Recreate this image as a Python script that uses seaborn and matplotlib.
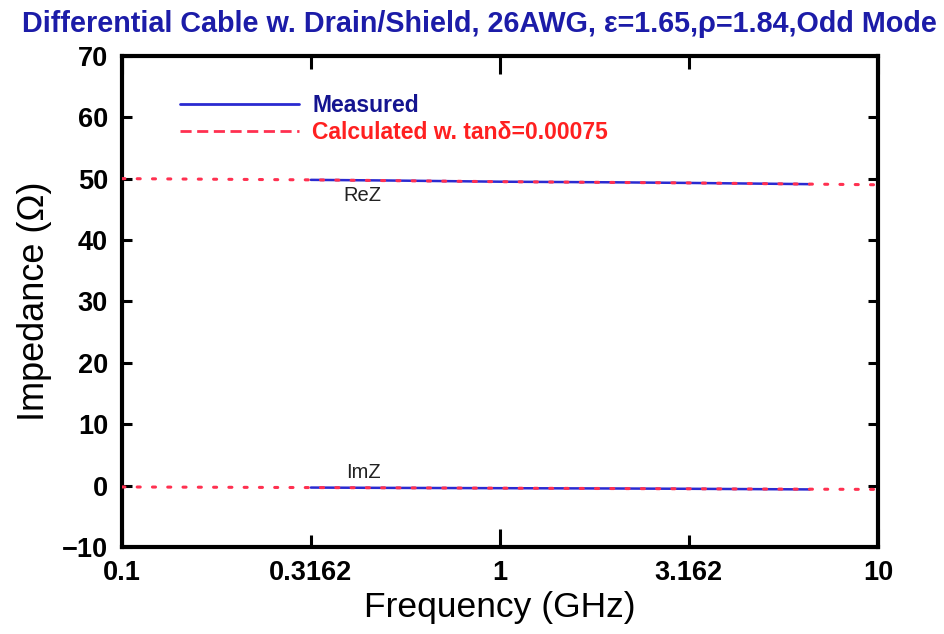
import matplotlib
matplotlib.use("Agg")
import matplotlib.pyplot as plt
from matplotlib.lines import Line2D
from matplotlib.ticker import FixedLocator, FixedFormatter, NullLocator
import seaborn as sns
import pandas as pd

# Frequency sweep (GHz) and impedance components (Ohm)
freq_calc = [0.1, 0.3162, 1.0, 3.162, 10.0]
rez_calc = [50.0, 49.8, 49.5, 49.3, 49.0]
imz_calc = [-0.2, -0.3, -0.4, -0.5, -0.6]

freq_meas = [0.3162, 0.5, 1.0, 2.0, 3.162, 6.6]
rez_meas = [49.8, 49.7, 49.5, 49.4, 49.3, 49.1]
imz_meas = [-0.3, -0.35, -0.4, -0.45, -0.5, -0.6]

x_ticks = [0.1, 0.3162, 1, 3.162, 10]
x_tick_labels = ["0.1", "0.3162", "1", "3.162", "10"]
y_ticks = [-10, 0, 10, 20, 30, 40, 50, 60, 70]

title = "Differential Cable w. Drain/Shield, 26AWG, \u03b5=1.65,\u03c1=1.84,Odd Mode"
legend_labels = ["Measured", "Calculated w. tan\u03b4=0.00075"]

sns.set_theme(style="white")
plt.rcParams["font.family"] = ["Liberation Sans", "DejaVu Sans"]

fig = plt.figure(figsize=(9.45, 6.34), dpi=100)
ax = fig.add_axes([0.129, 0.137, 0.800, 0.775])

calc = pd.DataFrame({"f": freq_calc, "re": rez_calc, "im": imz_calc})
meas = pd.DataFrame({"f": freq_meas, "re": rez_meas, "im": imz_meas})

blue = "#2a2ad0"
red = "#ff3050"
dots = (0, (1, 4))

for col in ["re", "im"]:
    sns.lineplot(data=meas, x="f", y=col, ax=ax, color=blue, linewidth=1.8,
                 estimator=None, zorder=2)
    sns.lineplot(data=calc, x="f", y=col, ax=ax, color=red, linewidth=2.2,
                 linestyle=dots, dash_capstyle="round", estimator=None, zorder=3)

ax.set_xscale("log")
ax.set_xlim(0.1, 10)
ax.set_ylim(-10, 70)
ax.xaxis.set_major_locator(FixedLocator(x_ticks))
ax.xaxis.set_major_formatter(FixedFormatter(x_tick_labels))
ax.xaxis.set_minor_locator(NullLocator())
ax.set_yticks(y_ticks)
ax.set_yticklabels([("\u2212" + str(-v)) if v < 0 else str(v) for v in y_ticks])

ax.tick_params(axis="both", which="major", direction="in", width=2.2,
               labelsize=19.5, colors="black")
ax.tick_params(axis="y", length=7, right=True, left=True, pad=10)
ax.tick_params(axis="x", length=9, top=True, bottom=True, pad=9)
for lbl in ax.get_xticklabels() + ax.get_yticklabels():
    lbl.set_fontweight("bold")
# shorter marks at the half-decade positions
for t in ax.xaxis.get_major_ticks():
    if abs(t.get_loc() - 1) > 1e-6 and 0.1 < t.get_loc() < 10:
        t.tick1line.set_markersize(9)
        t.tick2line.set_markersize(9)
    else:
        t.tick1line.set_markersize(13)
        t.tick2line.set_markersize(13)

for sp in ax.spines.values():
    sp.set_visible(True)
    sp.set_linewidth(3)
    sp.set_color("black")

ax.set_xlabel("Frequency (GHz)", fontsize=25.5, labelpad=4, color="black")
ax.set_ylabel("Impedance (\u03a9)", fontsize=26, color="black")
ax.yaxis.set_label_coords(-0.093, 0.5)
fig.suptitle(title, x=0.507, y=0.985, fontsize=20.7, fontweight="bold",
             color="#1c1ca8")

ax.text(0.293, 49.5 - 3.2, "ReZ", transform=ax.get_yaxis_transform(),
        fontsize=14.5, color="#222222")
ax.text(0.297, -0.4 + 1.6, "ImZ", transform=ax.get_yaxis_transform(),
        fontsize=14.5, color="#222222")

handles = [Line2D([], [], color=blue, linewidth=2),
           Line2D([], [], color=red, linewidth=2, linestyle=(0, (4, 2)))]
ax.legend(handles, legend_labels, loc="upper left", bbox_to_anchor=(0.05, 0.965),
          frameon=False, handlelength=5.2, handletextpad=0.55, labelspacing=0.2,
          prop={"weight": "bold", "size": 16.5},
          labelcolor=["#141490", "#ff2020"])

fig.savefig("out.png", dpi=100, facecolor="white")
